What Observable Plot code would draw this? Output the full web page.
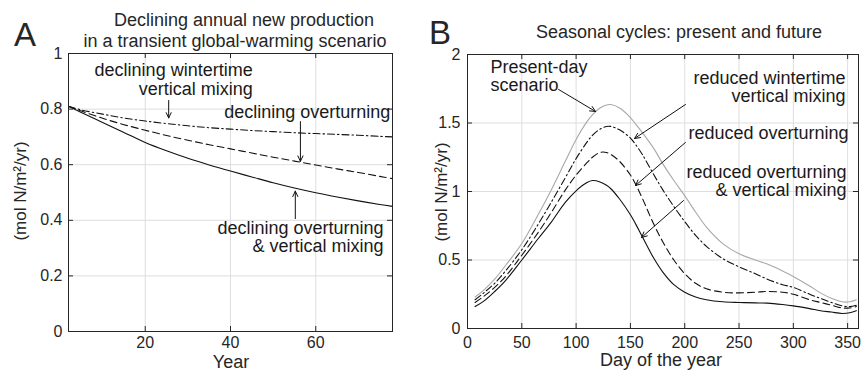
<!DOCTYPE html>
<html><head><meta charset="utf-8">
<script src="https://cdn.jsdelivr.net/npm/d3@7"></script>
<script src="https://cdn.jsdelivr.net/npm/@observablehq/plot@0.6"></script>
<style>
body{margin:0;background:#fff;font-family:"Liberation Sans",Arial,sans-serif;}
#wrap{position:relative;width:863px;height:371px;overflow:hidden;background:#fff;}
.abs{position:absolute;color:#262626;white-space:nowrap;line-height:1;}
.panel{position:absolute;top:0;}
</style></head><body><div id="wrap"></div>
<script>
// ---------- Panel A data ----------
const years = [2, 5, 10, 15, 20, 25, 30, 35, 40, 45, 50, 55, 60, 65, 70, 75, 78];
const aCombined    = [0.81, 0.788, 0.752, 0.716, 0.68, 0.65, 0.623, 0.599, 0.577, 0.556, 0.535, 0.516, 0.499, 0.484, 0.47, 0.457, 0.45];
const aOverturning = [0.81, 0.793, 0.767, 0.744, 0.724, 0.705, 0.688, 0.672, 0.657, 0.642, 0.627, 0.613, 0.599, 0.585, 0.572, 0.558, 0.55];
const aMixing      = [0.81, 0.797, 0.782, 0.768, 0.757, 0.748, 0.74, 0.733, 0.728, 0.723, 0.719, 0.715, 0.712, 0.709, 0.706, 0.702, 0.70];
const aXTicks = [20, 40, 60];
const aYTicks = [0, 0.2, 0.4, 0.6, 0.8, 1];

// ---------- Panel B data ----------
const days = [7, 15, 25, 35, 50, 65, 77, 90, 100, 110, 115, 122, 128, 132, 140, 150, 155, 161, 171, 180, 190, 200, 210, 220, 235, 250, 265, 276, 290, 300, 315, 325, 335, 345, 352, 358];
const bPresent     = [0.23, 0.28, 0.36, 0.46, 0.62, 0.83, 1.01, 1.22, 1.38, 1.51, 1.56, 1.61, 1.632, 1.635, 1.61, 1.54, 1.49, 1.43, 1.32, 1.2, 1.08, 0.97, 0.85, 0.74, 0.62, 0.545, 0.5, 0.47, 0.42, 0.38, 0.31, 0.26, 0.22, 0.195, 0.195, 0.21];
const bMixing      = [0.21, 0.26, 0.33, 0.42, 0.575, 0.76, 0.92, 1.1, 1.24, 1.36, 1.41, 1.455, 1.475, 1.475, 1.45, 1.39, 1.34, 1.27, 1.13, 1.01, 0.89, 0.78, 0.68, 0.6, 0.51, 0.45, 0.4, 0.36, 0.32, 0.3, 0.25, 0.22, 0.19, 0.165, 0.16, 0.17];
const bOverturning = [0.19, 0.235, 0.3, 0.38, 0.535, 0.7, 0.845, 1.01, 1.12, 1.21, 1.25, 1.285, 1.285, 1.27, 1.22, 1.12, 1.05, 0.95, 0.77, 0.63, 0.5, 0.4, 0.33, 0.29, 0.265, 0.26, 0.265, 0.27, 0.265, 0.25, 0.21, 0.19, 0.17, 0.15, 0.15, 0.16];
const bCombined    = [0.16, 0.2, 0.27, 0.35, 0.5, 0.655, 0.775, 0.92, 1.005, 1.065, 1.08, 1.07, 1.045, 1.02, 0.945, 0.83, 0.76, 0.67, 0.52, 0.41, 0.32, 0.265, 0.23, 0.21, 0.195, 0.19, 0.187, 0.185, 0.175, 0.165, 0.145, 0.13, 0.12, 0.11, 0.115, 0.13];
const bXTicks = [0, 50, 100, 150, 200, 250, 300, 350];
const bYTicks = [0, 0.5, 1, 1.5, 2];

// ---------- Annotations (data units) ----------
const aNotesEnd = [
  {x: 45.2, y: 0.906, text: "declining wintertime\nvertical mixing"},
  {x: 77.5, y: 0.788, text: "declining overturning"},
  {x: 75.9, y: 0.34, text: "declining overturning\n& vertical mixing"}
];
const aNotesStart = [];
const aArrows = [
  {x1: 25.5, y1: 0.831, x2: 25.5, y2: 0.768},
  {x1: 56.4, y1: 0.755, x2: 56.4, y2: 0.612},
  {x1: 55.2, y1: 0.406, x2: 55.2, y2: 0.505}
];
const bNotesStart = [
  {x: 21.2, y: 1.84, text: "Present-day\nscenario"}
];
const bNotesEnd = [
  {x: 348, y: 1.763, text: "reduced wintertime\nvertical mixing"},
  {x: 350.8, y: 1.423, text: "reduced overturning"},
  {x: 349, y: 1.077, text: "reduced overturning\n& vertical mixing"}
];
const bArrows = [
  {x1: 83.8, y1: 1.745, x2: 117.9, y2: 1.584},
  {x1: 200.7, y1: 1.635, x2: 153.8, y2: 1.387},
  {x1: 200.7, y1: 1.358, x2: 154.7, y2: 1.044},
  {x1: 198.9, y1: 0.934, x2: 160.2, y2: 0.664}
];

const INK = "#262626";
const FONT = "Liberation Sans, Arial, sans-serif";

function panel(cfg) {
  const fw = cfg.width - cfg.mL - cfg.mR;
  const fh = 371 - cfg.mT - cfg.mB;
  const T = 5;
  const lineMarks = cfg.series.map(s =>
    Plot.line(cfg.xs.map((x, i) => ({x, y: s.values[i]})),
      {x: "x", y: "y", stroke: s.stroke, strokeWidth: 1.1, strokeDasharray: s.dash, curve: "catmull-rom"}));
  const noteOpts = {x: "x", y: "y", text: "text", lineAnchor: "middle", lineHeight: 1.02, fontSize: 18, fill: "#1a1a1a"};
  return Plot.plot({
    width: cfg.width, height: 371,
    marginLeft: cfg.mL, marginRight: cfg.mR, marginTop: cfg.mT, marginBottom: cfg.mB,
    style: {fontFamily: FONT, fontSize: "16px", color: INK, background: "transparent", overflow: "visible"},
    x: {domain: cfg.xDomain, ticks: cfg.xTicks, label: null},
    y: {domain: cfg.yDomain, ticks: cfg.yTicks, label: null},
    marks: [
      Plot.gridX(cfg.xTicks, {stroke: "#dedede", strokeOpacity: 1}),
      Plot.gridY(cfg.yTicks, {stroke: "#dedede", strokeOpacity: 1}),
      Plot.axisX(cfg.xTicks, {anchor: "bottom", tickSize: 0, tickPadding: cfg.xPad, tickFormat: cfg.xFmt, fontSize: 16, fill: INK}),
      Plot.axisY(cfg.yTicks, {anchor: "left", tickSize: 0, tickPadding: cfg.yPad, tickFormat: cfg.yFmt, fontSize: 16, fill: INK}),
      // inward ticks on all four sides
      Plot.ruleX(cfg.xTicks, {x: d => d, stroke: INK, insetTop: fh - T}),
      Plot.ruleX(cfg.xTicks, {x: d => d, stroke: INK, insetBottom: fh - T}),
      Plot.ruleY(cfg.yTicks, {y: d => d, stroke: INK, insetRight: fw - T}),
      Plot.ruleY(cfg.yTicks, {y: d => d, stroke: INK, insetLeft: fw - T}),
      ...lineMarks,
      Plot.arrow(cfg.arrows, {x1: "x1", y1: "y1", x2: "x2", y2: "y2", stroke: "#111", strokeWidth: 1, headLength: 9, headAngle: 50}),
      Plot.text(cfg.notesEnd, {...noteOpts, textAnchor: "end"}),
      Plot.text(cfg.notesStart, {...noteOpts, textAnchor: "start"}),
      Plot.frame({stroke: INK, strokeWidth: 1})
    ]
  });
}

const wrap = document.getElementById("wrap");

const A = panel({
  width: 431, mL: 68, mR: 39, mT: 53, mB: 40,
  xDomain: [2, 78], yDomain: [0, 1], xTicks: aXTicks, yTicks: aYTicks,
  xFmt: d => String(d), yFmt: d => String(d), xPad: 5, yPad: 6, xs: years,
  series: [
    {values: aCombined, stroke: "#111", dash: null},
    {values: aOverturning, stroke: "#111", dash: "7,4"},
    {values: aMixing, stroke: "#111", dash: "7,3,1.5,3"}
  ],
  notesEnd: aNotesEnd, notesStart: aNotesStart, arrows: aArrows
});
A.classList.add("panel"); A.style.left = "0px";
wrap.appendChild(A);

const B = panel({
  width: 432, mL: 36, mR: 5, mT: 54, mB: 43,
  xDomain: [0, 360], yDomain: [0, 2], xTicks: bXTicks, yTicks: bYTicks,
  xFmt: d => String(d), yFmt: d => String(d), xPad: 8, yPad: 7, xs: days,
  series: [
    {values: bPresent, stroke: "#a8a8a8", dash: null},
    {values: bMixing, stroke: "#111", dash: "7,3,1.5,3"},
    {values: bOverturning, stroke: "#111", dash: "7,4"},
    {values: bCombined, stroke: "#111", dash: null}
  ],
  notesEnd: bNotesEnd, notesStart: bNotesStart, arrows: bArrows
});
B.classList.add("panel"); B.style.left = "431px";
wrap.appendChild(B);

function label(text, x, y, size, rotate, lh) {
  const d = document.createElement("div");
  d.className = "abs";
  d.textContent = text;
  d.style.fontSize = size + "px";
  if (lh) d.style.lineHeight = lh;
  d.style.left = x + "px";
  d.style.top = y + "px";
  d.style.transform = "translate(-50%,-50%)" + (rotate ? " rotate(-90deg)" : "");
  wrap.appendChild(d);
  return d;
}
label("A", 25, 35, 33, false, 0.6);
label("B", 440, 33, 33, false, 0.6);
label("Declining annual new production", 244, 20, 18);
label("in a transient global-warming scenario", 235, 41, 18);
label("Seasonal cycles: present and future", 679, 32, 18);
label("Year", 231, 362, 18, false, 0.6);
label("Day of the year", 661, 360, 18, false, 0.6);
label("(mol N/m\u00b2/yr)", 20, 191, 17, true);
label("(mol N/m\u00b2/yr)", 441, 192, 17, true);
</script></body></html>
